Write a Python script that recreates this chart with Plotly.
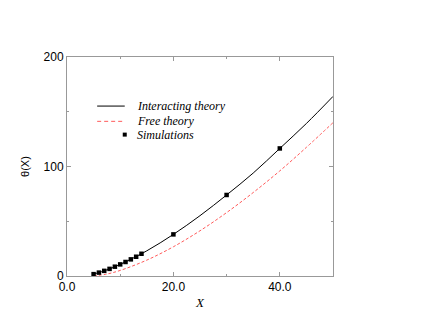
import plotly.graph_objects as go

# Data
theory_x = [5, 7.5, 10, 15, 20, 25, 30, 35, 40, 45, 50]
interacting_y = [1.7, 5.6, 10.6, 23.0, 38.0, 55.1, 74.0, 94.0, 116.5, 139.3, 164.0]
free_y = [0.0, 1.8, 5.1, 14.5, 26.7, 41.3, 57.9, 76.2, 96.0, 117.5, 140.0]
sim_x = [5, 6, 7, 8, 9, 10, 11, 12, 13, 14, 20, 30, 40]
sim_y = [1.7, 3.1, 4.7, 6.5, 8.5, 10.6, 12.8, 15.2, 17.6, 20.3, 38.0, 74.0, 116.5]
legend_labels = ["Interacting theory", "Free theory", "Simulations"]

BLACK = "black"
RED = "#ff5a5a"
DASH = "3px,2px"

fig = go.Figure()
fig.add_trace(go.Scatter(x=theory_x, y=interacting_y, mode="lines", name=legend_labels[0],
                         line=dict(color=BLACK, width=1, shape="spline")))
fig.add_trace(go.Scatter(x=theory_x, y=free_y, mode="lines", name=legend_labels[1],
                         line=dict(color=RED, width=1, dash=DASH, shape="spline")))
fig.add_trace(go.Scatter(x=sim_x, y=sim_y, mode="markers", name=legend_labels[2],
                         marker=dict(symbol="square", size=4.5, color=BLACK)))

# Hand-drawn legend (paper coordinates) to match the compact original layout
leg_x0, leg_x1, leg_tx = 0.1134, 0.2171, 0.254
leg_rows = [0.7759, 0.7062, 0.6456]
legend_font = dict(family="Liberation Serif, Times New Roman", size=12, color="black")
fig.add_shape(type="line", xref="paper", yref="paper", x0=leg_x0, x1=leg_x1, y0=leg_rows[0], y1=leg_rows[0],
              line=dict(color=BLACK, width=1))
fig.add_shape(type="line", xref="paper", yref="paper", x0=leg_x0, x1=leg_x1, y0=leg_rows[1], y1=leg_rows[1],
              line=dict(color=RED, width=1, dash="4px,3px"))
fig.add_shape(type="rect", xref="paper", yref="paper", xsizemode="pixel", ysizemode="pixel",
              xanchor=leg_x1, yanchor=leg_rows[2], x0=-2, x1=2, y0=-2, y1=2,
              line=dict(width=0), fillcolor=BLACK)
for lab, ry in zip(legend_labels, leg_rows):
    fig.add_annotation(x=leg_tx, y=ry, xref="paper", yref="paper", text=f"<i>{lab}</i>",
                       showarrow=False, xanchor="left", yanchor="middle", font=legend_font)

axis_common = dict(showgrid=False, zeroline=False, showline=True, linecolor="#999999", linewidth=1,
                   mirror="ticks", ticks="inside", tickcolor="#999999", ticklen=4,
                   tickfont=dict(family="Liberation Sans, Arial", size=12, color="black"))

fig.update_layout(
    width=436, height=333,
    margin=dict(l=58.5, r=111.3, t=48.5, b=65),
    paper_bgcolor="white", plot_bgcolor="white",
    showlegend=False,
    xaxis=dict(range=[0, 50], dtick=20, tick0=0, tickformat=".1f",
               minor=dict(dtick=10, ticks="inside", ticklen=2, tickcolor="#999999"),
               title=dict(text="<i>X</i>", font=dict(family="Liberation Serif, Times New Roman", size=13, color="black"),
                          standoff=4),
               **axis_common),
    yaxis=dict(range=[0, 200], dtick=100, tick0=0,
               minor=dict(dtick=50, ticks="inside", ticklen=2, tickcolor="#999999"),
               title=dict(text="θ(X)", font=dict(family="Liberation Sans, Arial", size=11, color="black"),
                          standoff=11),
               **axis_common),
)

fig.write_html("out.html")
